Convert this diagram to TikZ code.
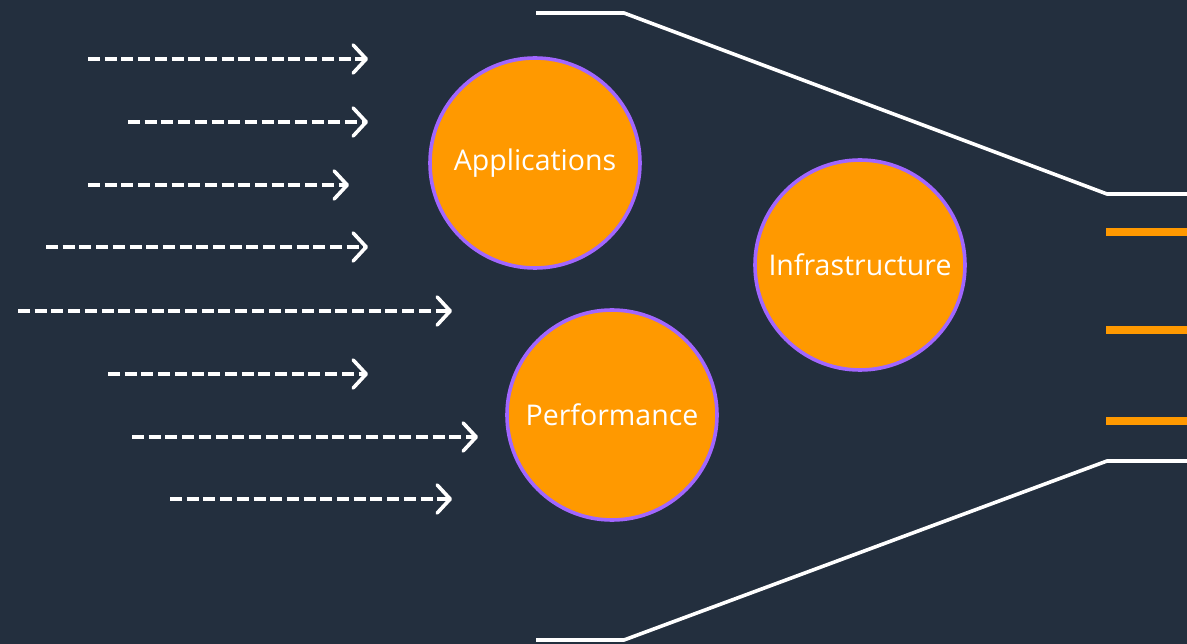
\documentclass[tikz,border=0pt]{standalone}
\usepackage{fontspec}
\setmainfont{Open Sans}
\usetikzlibrary{arrows.meta}
\definecolor{bg}{HTML}{232F3E}
\definecolor{aorange}{HTML}{FF9900}
\definecolor{apurple}{HTML}{A166FF}
\begin{document}
\begin{tikzpicture}[x=1pt,y=-1pt,
  flow/.style={white,line width=3.6pt,dash pattern=on 12pt off 4.7pt,
    -{Straight Barb[length=13pt,width=28pt,line width=3.6pt,round]}},
  bubble/.style={circle,draw=apurple,line width=3.6pt,fill=aorange,minimum size=210pt,
    inner sep=0pt,text=white,font=\fontsize{28.5}{32}\selectfont},
  funnel/.style={white,line width=3.6pt},
  lane/.style={aorange,line width=8pt}]
\fill[bg] (0,0) rectangle (1187,644);
\useasboundingbox (0,0) rectangle (1187,644);
% arrows
\foreach \i/\y/\a/\b in {1/59/88/368,2/122/128/368,3/185/88/349,4/247/46/368,5/311/18/452,6/374/108/368,7/437/132/478,8/499/170/452}{
  \coordinate (s\i) at (\a,\y);
  \coordinate (e\i) at (\b,\y);
  \draw[flow] (s\i) -- (e\i);
}
% bubbles
\node[bubble] (app) at (535,163) {\raisebox{-3.5pt}{Applications}};
\node[bubble] (inf) at (860,265) {\raisebox{-1.5pt}{Infrastructure}};
\node[bubble] (perf) at (612,415) {\raisebox{-2.5pt}{Performance}};
% funnel
\coordinate (t1) at (536,13);
\coordinate (t2) at (624,13);
\coordinate (t3) at (1107,194);
\coordinate (t4) at (1190,194);
\coordinate (b1) at (536,640);
\coordinate (b2) at (624,640);
\coordinate (b3) at (1107,461);
\coordinate (b4) at (1190,461);
\draw[funnel] (t1) -- (t2) -- (t3) -- (t4);
\draw[funnel] (b1) -- (b2) -- (b3) -- (b4);
% lanes
\foreach \i/\y in {1/232,2/330,3/421}{
  \coordinate (l\i) at (1106,\y);
  \coordinate (r\i) at (1190,\y);
  \draw[lane] (l\i) -- (r\i);
}
\end{tikzpicture}
\end{document}
